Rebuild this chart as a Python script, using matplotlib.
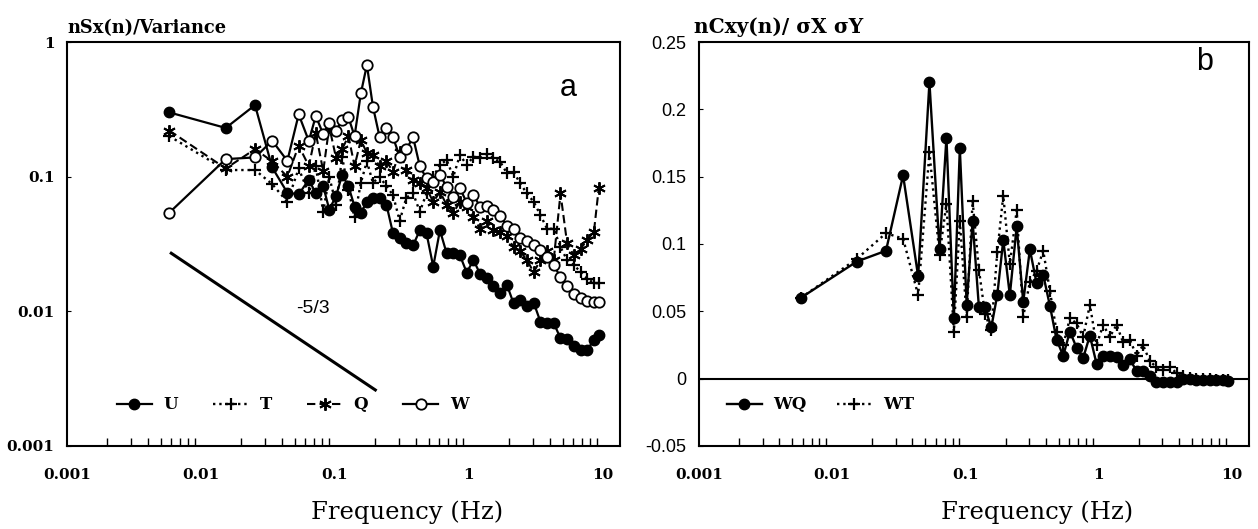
import matplotlib.pyplot as plt
import numpy as np
from matplotlib.ticker import LogLocator, NullFormatter, FixedLocator

# frequency bins (Hz)
freq = [0.0058, 0.0153, 0.0253, 0.034, 0.0441, 0.0536, 0.0638, 0.0719, 0.0817, 0.0906,
        0.102, 0.113, 0.126, 0.14, 0.156, 0.173, 0.192, 0.215, 0.242, 0.271,
        0.304, 0.341, 0.383, 0.43, 0.482, 0.541, 0.607, 0.681, 0.764, 0.857,
        0.962, 1.08, 1.21, 1.36, 1.52, 1.71, 1.92, 2.15, 2.41, 2.71,
        3.04, 3.41, 3.83, 4.29, 4.82, 5.4, 6.06, 6.8, 7.63, 8.56, 9.3]

# panel a: normalised spectra
spec_u = [0.30, 0.23, 0.34, 0.117, 0.076, 0.074, 0.095, 0.075, 0.085, 0.057,
          0.072, 0.103, 0.085, 0.06, 0.054, 0.065, 0.070, 0.069, 0.062, 0.038,
          0.035, 0.032, 0.031, 0.040, 0.038, 0.0215, 0.040, 0.027, 0.027, 0.026,
          0.0194, 0.024, 0.019, 0.0176, 0.0153, 0.0137, 0.0157, 0.0115, 0.0121, 0.0109,
          0.0116, 0.0084, 0.0082, 0.0082, 0.0063, 0.0062, 0.0055, 0.0052, 0.0052, 0.0061, 0.0067]
spec_t = [0.20, 0.112, 0.112, 0.088, 0.065, 0.115, 0.075, 0.119, 0.055, 0.10,
          0.062, 0.14, 0.08, 0.05, 0.09, 0.13, 0.09, 0.10, 0.085, 0.073,
          0.047, 0.07, 0.075, 0.055, 0.075, 0.10, 0.122, 0.133, 0.10, 0.145,
          0.122, 0.141, 0.137, 0.147, 0.137, 0.129, 0.106, 0.109, 0.089, 0.075,
          0.065, 0.052, 0.041, 0.041, 0.030, 0.024, 0.022, 0.0197, 0.0175, 0.0162, 0.0162]
spec_q = [0.22, 0.115, 0.16, 0.13, 0.10, 0.17, 0.12, 0.21, 0.11, 0.235,
          0.137, 0.16, 0.20, 0.12, 0.187, 0.15, 0.145, 0.119, 0.13, 0.109,
          0.153, 0.112, 0.095, 0.09, 0.082, 0.065, 0.077, 0.062, 0.054, 0.065,
          0.06, 0.05, 0.041, 0.047, 0.040, 0.039, 0.036, 0.030, 0.028, 0.024,
          0.0195, 0.024, 0.028, 0.024, 0.075, 0.032, 0.026, 0.029, 0.034, 0.039, 0.082]
spec_w = [0.054, 0.135, 0.139, 0.185, 0.131, 0.29, 0.184, 0.282, 0.207, 0.25,
          0.22, 0.263, 0.276, 0.20, 0.416, 0.675, 0.331, 0.198, 0.229, 0.196,
          0.141, 0.16, 0.196, 0.119, 0.097, 0.092, 0.103, 0.084, 0.071, 0.082,
          0.064, 0.073, 0.060, 0.0605, 0.057, 0.051, 0.043, 0.041, 0.035, 0.0335,
          0.031, 0.0285, 0.0255, 0.022, 0.018, 0.0155, 0.0135, 0.0125, 0.012, 0.0118, 0.0117]

# panel b: normalised cospectra
cosp_wq = [0.060, 0.087, 0.095, 0.151, 0.076, 0.220, 0.096, 0.179, 0.045, 0.171,
           0.055, 0.117, 0.053, 0.053, 0.038, 0.062, 0.103, 0.062, 0.113, 0.057,
           0.096, 0.071, 0.077, 0.054, 0.029, 0.017, 0.035, 0.023, 0.0155, 0.032,
           0.011, 0.0167, 0.0167, 0.0162, 0.010, 0.0143, 0.0058, 0.0058, 0.0018, -0.0024,
           -0.0024, -0.0026, -0.0024, -0.0006, -0.0006, -0.001, -0.001, -0.001, -0.001, -0.0012, -0.0016]
cosp_wt = [0.060, 0.089, 0.108, 0.104, 0.062, 0.168, 0.092, 0.130, 0.035, 0.117,
           0.046, 0.132, 0.081, 0.048, 0.036, 0.094, 0.136, 0.085, 0.125, 0.046,
           0.072, 0.080, 0.095, 0.065, 0.035, 0.025, 0.045, 0.041, 0.031, 0.055,
           0.025, 0.040, 0.031, 0.040, 0.027, 0.029, 0.017, 0.025, 0.013, 0.0086,
           0.0064, 0.0086, 0.0042, 0.002, 0.0005, 0.0, -0.0005, -0.0005, -0.001, -0.001, -0.0012]

slope_x = [0.006, 0.2]
slope_y = [0.027, 0.027 * (0.2 / 0.006) ** (-2.0 / 3.0)]

dec_ticks = [0.001, 0.01, 0.1, 1, 10]
dec_labels = ['0.001', '0.01', '0.1', '1', '10']

serif_b = dict(family='DejaVu Serif', weight='bold')

fig = plt.figure(figsize=(12.58, 5.29), dpi=100)
W, H = 1258.0, 529.0
ax1 = fig.add_axes([67 / W, 83 / H, 553 / W, 404 / H])
ax2 = fig.add_axes([699 / W, 83 / H, 550 / W, 404 / H])


def style_freq_axis(ax):
    ax.set_xscale('log')
    ax.set_xlim(0.001, 13.4)
    ax.xaxis.set_major_locator(FixedLocator(dec_ticks))
    ax.set_xticklabels(dec_labels, fontsize=11, **serif_b)
    ax.xaxis.set_minor_locator(LogLocator(base=10, subs=range(2, 10)))
    ax.xaxis.set_minor_formatter(NullFormatter())
    ax.tick_params(axis='x', which='major', length=0, pad=16)
    ax.tick_params(axis='x', which='minor', direction='in', length=6, width=1)
    ax.tick_params(axis='y', which='both', direction='in', length=3, pad=9)
    for s in ax.spines.values():
        s.set_linewidth(1.5)
    ax.set_xlabel('Frequency (Hz)', family='DejaVu Serif', fontsize=17.5)
    ax.xaxis.set_label_coords(0.615, -0.135)


# ---- panel a
ax1.plot(freq, spec_u, '-', color='black', lw=1.6, marker='o', ms=7.5, label='U')
ax1.plot(freq, spec_t, ':', color='black', lw=1.7, marker='+', ms=9, mew=1.6, label='T')
ax1.plot(freq, spec_q, color='black', lw=1.5, ls=(0, (4, 2)), marker=(6, 2, 0), ms=9, mew=1.4, label='Q')
ax1.plot(freq, spec_w, '-', color='black', lw=1.6, marker='o', ms=7.5, mfc='white', mew=1.3, label='W')
ax1.plot(slope_x, slope_y, '-', color='black', lw=2.2)
ax1.text(0.068, 0.0105, '-5/3', family='Liberation Sans', fontsize=14, ha='center', va='center')
ax1.text(0.906, 0.886, 'a', transform=ax1.transAxes, family='Liberation Sans', fontsize=22,
         ha='center', va='center')

ax1.set_yscale('log')
ax1.set_ylim(0.001, 1)
ax1.yaxis.set_major_locator(FixedLocator([0.001, 0.01, 0.1, 1]))
ax1.set_yticklabels(['0.001', '0.01', '0.1', '1'], fontsize=11, **serif_b)
ax1.yaxis.set_minor_locator(FixedLocator([]))
style_freq_axis(ax1)
ax1.text(0.0, 1.022, 'nSx(n)/Variance', transform=ax1.transAxes, fontsize=12.8, **serif_b)
ax1.legend(loc='lower left', bbox_to_anchor=(0.075, 0.06), ncol=4, frameon=False,
           prop=dict(size=12, **serif_b), handlelength=2.1, handletextpad=0.7,
           columnspacing=2.1, borderpad=0)

# ---- panel b
ax2.axhline(0, color='black', lw=1.5)
ax2.plot(freq, cosp_wq, '-', color='black', lw=1.7, marker='o', ms=7.5, label='WQ')
ax2.plot(freq, cosp_wt, ':', color='black', lw=1.7, marker='+', ms=9, mew=1.6, label='WT')
ax2.set_ylim(-0.05, 0.25)
ax2.set_yticks([-0.05, 0, 0.05, 0.1, 0.15, 0.2, 0.25])
ax2.set_yticklabels(['-0.05', '0', '0.05', '0.1', '0.15', '0.2', '0.25'],
                    family='Liberation Sans', fontsize=13)
style_freq_axis(ax2)
ax2.text(0.92, 0.95, 'b', transform=ax2.transAxes, family='Liberation Sans', fontsize=22,
         ha='center', va='center')
ax2.text(-0.01, 1.022, 'nCxy(n)/ \u03c3X \u03c3Y', transform=ax2.transAxes, fontsize=14.5, **serif_b)
ax2.legend(loc='lower left', bbox_to_anchor=(0.035, 0.06), ncol=2, frameon=False,
           prop=dict(size=12, **serif_b), handlelength=2.1, handletextpad=0.7,
           columnspacing=1.8, borderpad=0)

fig.savefig('out.png', dpi=100)
